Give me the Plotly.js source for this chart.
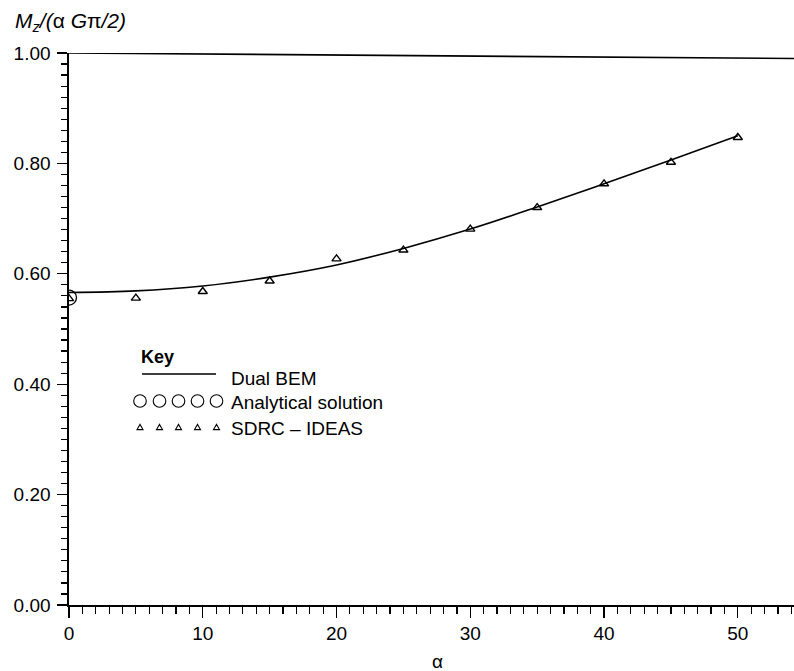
<!DOCTYPE html>
<html>
<head>
<meta charset="utf-8">
<script src="https://cdn.plot.ly/plotly-3.0.1.min.js"></script>
<style>html,body{margin:0;padding:0;background:#fff;}#chart{width:794px;height:671px;}</style>
</head>
<body>
<div id="chart"></div>
<script>
// Dual BEM curve
const bemAlpha = [0, 5, 10, 15, 20, 25, 30, 35, 40, 45, 50];
const bemValue = [0.566, 0.569, 0.578, 0.594, 0.616, 0.646, 0.681, 0.721, 0.763, 0.806, 0.850];
// SDRC - IDEAS points
const sdrcAlpha = [0, 5, 10, 15, 20, 25, 30, 35, 40, 45, 50];
const sdrcValue = [0.555, 0.556, 0.568, 0.587, 0.627, 0.643, 0.681, 0.720, 0.763, 0.802, 0.847];
// Analytical solution
const anaAlpha = [0];
const anaValue = [0.557];
// Axis ticks
const xTicks = [0, 10, 20, 30, 40, 50];
const yTicks = [0, 0.2, 0.4, 0.6, 0.8, 1.0];
const yTickText = ["0.00", "0.20", "0.40", "0.60", "0.80", "1.00"];

const font = "Liberation Sans, Arial, sans-serif";
const M = {l: 69, r: 0, t: 53, b: 66};
const W = 794, H = 671;
const pw = W - M.l - M.r, ph = H - M.t - M.b;
const px = v => (v - M.l) / pw;
const py = v => (H - M.b - v) / ph;

const traces = [
  {x: bemAlpha, y: bemValue, mode: "lines", line: {color: "#000", width: 1.6, shape: "spline", smoothing: 1}, name: "Dual BEM", hoverinfo: "skip"},
  {x: anaAlpha, y: anaValue, mode: "markers", marker: {symbol: "circle-open", size: 15, color: "#000", line: {width: 1.3, color: "#000"}}, name: "Analytical solution"},
  {x: sdrcAlpha, y: sdrcValue, mode: "markers", marker: {symbol: "triangle-up-open", size: 8, color: "#000", line: {width: 1.4, color: "#000"}}, name: "SDRC – IDEAS"}
];

// legend decorations (pixel-placed key)
const shapes = [
  {type: "line", xref: "paper", yref: "y", x0: 0, x1: 1, y0: 1, y1: 0.99, line: {color: "#000", width: 1.6}},
  {type: "line", xref: "paper", yref: "paper", x0: px(142), x1: px(216), y0: py(374), y1: py(374), line: {color: "#000", width: 1.6}}
];
const keyX = [140, 159.5, 178.5, 197.5, 216.5];
keyX.forEach(cx => {
  const r = 6.3, cy = 401;
  shapes.push({type: "circle", xref: "paper", yref: "paper", x0: px(cx - r), x1: px(cx + r), y0: py(cy + r), y1: py(cy - r), line: {color: "#000", width: 1.1}});
  const tcy = 427, hw = 3, hh = 2.6;
  shapes.push({type: "path", xref: "paper", yref: "paper",
    path: `M ${px(cx - hw)} ${py(tcy + hh)} L ${px(cx + hw)} ${py(tcy + hh)} L ${px(cx)} ${py(tcy - hh)} Z`,
    line: {color: "#000", width: 1.1}});
});

const layout = {
  width: W, height: H,
  margin: M,
  paper_bgcolor: "#fff", plot_bgcolor: "#fff",
  showlegend: false,
  font: {family: font, size: 19, color: "#000"},
  xaxis: {
    range: [0, 54.2], tickvals: xTicks, ticktext: xTicks.map(String),
    ticks: "outside", ticklen: 11, tickwidth: 1.3, tickcolor: "#000",
    showline: true, linecolor: "#000", linewidth: 1.6, showgrid: false, zeroline: false,
    minor: {dtick: 1, tick0: 0, ticks: "outside", ticklen: 7, tickwidth: 1.2, tickcolor: "#000", showgrid: false},
    tickfont: {family: font, size: 19, color: "#000"}
  },
  yaxis: {
    range: [0, 1.0], tickvals: yTicks, ticktext: yTickText,
    ticks: "outside", ticklen: 10, tickwidth: 1.3, tickcolor: "#000",
    showline: true, linecolor: "#000", linewidth: 1.6, showgrid: false, zeroline: false,
    minor: {dtick: 0.02, tick0: 0, ticks: "outside", ticklen: 6, tickwidth: 1.2, tickcolor: "#000", showgrid: false},
    tickfont: {family: font, size: 19, color: "#000"},
    ticklabelstandoff: 3
  },
  shapes: shapes,
  annotations: [
    {xref: "paper", yref: "paper", x: px(13), y: py(22), xanchor: "left", yanchor: "middle", showarrow: false,
     text: "<i>M<sub>z</sub>/(</i>α <i>G</i>π<i>/2)</i>", font: {family: font, size: 21, color: "#000"}},
    {xref: "paper", yref: "paper", x: px(437), y: py(661), xanchor: "center", yanchor: "middle", showarrow: false,
     text: "α", font: {family: font, size: 19, color: "#000"}},
    {xref: "paper", yref: "paper", x: px(139), y: py(357), xanchor: "left", yanchor: "middle", showarrow: false,
     text: "<b>Key</b>", font: {family: font, size: 18, color: "#000"}},
    {xref: "paper", yref: "paper", x: px(229), y: py(378), xanchor: "left", yanchor: "middle", showarrow: false,
     text: "Dual BEM", font: {family: font, size: 19, color: "#000"}},
    {xref: "paper", yref: "paper", x: px(229), y: py(402), xanchor: "left", yanchor: "middle", showarrow: false,
     text: "Analytical solution", font: {family: font, size: 19, color: "#000"}},
    {xref: "paper", yref: "paper", x: px(229), y: py(428), xanchor: "left", yanchor: "middle", showarrow: false,
     text: "SDRC – IDEAS", font: {family: font, size: 19, color: "#000"}}
  ]
};

Plotly.newPlot("chart", traces, layout, {displayModeBar: false, staticPlot: true});
</script>
</body>
</html>
